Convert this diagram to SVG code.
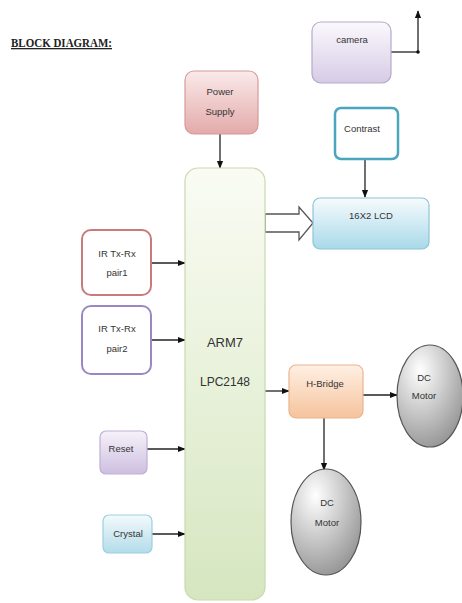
<svg xmlns="http://www.w3.org/2000/svg" width="462" height="603" viewBox="0 0 462 603">
<style>
text{font-family:"Liberation Sans",Arial,sans-serif;font-size:9.5px;fill:#333;text-anchor:middle}
.c{stroke:#222;stroke-width:1.3;fill:none}
.box{stroke-width:1.2}
</style>
<defs>
<marker id="ar" viewBox="0 0 10 10" refX="9" refY="5" markerWidth="6" markerHeight="6" orient="auto"><path d="M0,1 L10,5 L0,9 z" fill="#111"/></marker>
<linearGradient id="gCam" x1="0" y1="0" x2="0" y2="1"><stop offset="0" stop-color="#fbf9fd"/><stop offset="1" stop-color="#d6cbe6"/></linearGradient>
<linearGradient id="gPow" x1="0" y1="0" x2="0" y2="1"><stop offset="0" stop-color="#fbeaea"/><stop offset="1" stop-color="#e3aaaa"/></linearGradient>
<linearGradient id="gArm" x1="0" y1="0" x2="0" y2="1"><stop offset="0" stop-color="#fafcf4"/><stop offset="1" stop-color="#d6e6c0"/></linearGradient>
<linearGradient id="gLcd" x1="0" y1="0" x2="0" y2="1"><stop offset="0" stop-color="#f6fbfd"/><stop offset="1" stop-color="#a9d9e9"/></linearGradient>
<linearGradient id="gRes" x1="0" y1="0" x2="0" y2="1"><stop offset="0" stop-color="#f6f2fa"/><stop offset="1" stop-color="#cdbfe0"/></linearGradient>
<linearGradient id="gCry" x1="0" y1="0" x2="0" y2="1"><stop offset="0" stop-color="#f3fafc"/><stop offset="1" stop-color="#b2dcea"/></linearGradient>
<linearGradient id="gHb" x1="0" y1="0" x2="0" y2="1"><stop offset="0" stop-color="#fff0e4"/><stop offset="1" stop-color="#f6c39c"/></linearGradient>
<radialGradient id="gMot" cx="0.35" cy="0.25" r="0.85"><stop offset="0" stop-color="#ffffff"/><stop offset="1" stop-color="#8e8e8e"/></radialGradient>
</defs>
<rect width="462" height="603" fill="#fff"/>
<g id="title"><text x="11" y="47" style="font-family:'Liberation Serif','Times New Roman',serif;font-weight:bold;font-size:13px;text-anchor:start;fill:#222;text-decoration:underline" textLength="101" lengthAdjust="spacingAndGlyphs">BLOCK DIAGRAM:</text></g>
<g id="connectors">
<polyline class="c" points="391,52 418,52"/>
<line class="c" x1="418" y1="52" x2="418" y2="11" marker-end="url(#ar)"/>
<circle cx="418" cy="52" r="1.8" fill="#111"/>
<line class="c" x1="220" y1="134" x2="220" y2="168" marker-end="url(#ar)"/>
<line class="c" x1="365" y1="159" x2="365" y2="197" marker-end="url(#ar)"/>
<polygon points="265,214 299,214 299,207 313,223 299,240 299,232 265,232" fill="#fff" stroke="#555" stroke-width="1.3"/>
<line class="c" x1="151" y1="263" x2="185" y2="263" marker-end="url(#ar)"/>
<line class="c" x1="151" y1="340" x2="185" y2="340" marker-end="url(#ar)"/>
<line class="c" x1="147" y1="449" x2="185" y2="449" marker-end="url(#ar)"/>
<line class="c" x1="152" y1="534" x2="185" y2="534" marker-end="url(#ar)"/>
<line class="c" x1="265" y1="391" x2="289" y2="391" marker-end="url(#ar)"/>
<line class="c" x1="363" y1="395" x2="397" y2="395" marker-end="url(#ar)"/>
<line class="c" x1="324" y1="418" x2="324" y2="470" marker-end="url(#ar)"/>
</g>
<g id="camera"><rect class="box" x="312" y="22" width="79" height="61" rx="9" fill="url(#gCam)" stroke="#b7a9cc"/><text x="352" y="43">camera</text></g>
<g id="power"><rect class="box" x="185" y="71" width="73" height="63" rx="9" fill="url(#gPow)" stroke="#d69a9a"/><text x="220" y="95">Power</text><text x="220" y="115">Supply</text></g>
<g id="arm"><rect class="box" x="185" y="168" width="80" height="432" rx="13" fill="url(#gArm)" stroke="#c9d9ad"/><text x="225" y="347" style="font-size:13px">ARM7</text><text x="225" y="386" style="font-size:12px">LPC2148</text></g>
<g id="contrast"><rect x="335" y="108" width="63" height="51" rx="6" fill="#fff" stroke="#4aa5bd" stroke-width="2.5"/><text x="362" y="132">Contrast</text></g>
<g id="lcd"><rect class="box" x="313" y="198" width="116" height="51" rx="7" fill="url(#gLcd)" stroke="#8fc4d6"/><text x="371" y="219">16X2 LCD</text></g>
<g id="ir1"><rect x="82" y="230" width="69" height="65" rx="9" fill="#fff" stroke="#c97a7a" stroke-width="2"/><text x="117" y="257">IR Tx-Rx</text><text x="117" y="276">pair1</text></g>
<g id="ir2"><rect x="82" y="306" width="69" height="68" rx="9" fill="#fff" stroke="#9a88c4" stroke-width="2"/><text x="117" y="332">IR Tx-Rx</text><text x="117" y="352">pair2</text></g>
<g id="reset"><rect class="box" x="100" y="431" width="47" height="43" rx="6" fill="url(#gRes)" stroke="#bfb0d6"/><text x="121" y="452">Reset</text></g>
<g id="crystal"><rect class="box" x="103" y="515" width="49" height="38" rx="6" fill="url(#gCry)" stroke="#9ccfe0"/><text x="128" y="537">Crystal</text></g>
<g id="hbridge"><rect class="box" x="289" y="365" width="74" height="53" rx="7" fill="url(#gHb)" stroke="#eab48e"/><text x="325" y="387">H-Bridge</text></g>
<g id="motor1"><ellipse cx="430" cy="396" rx="33" ry="51" fill="url(#gMot)" stroke="#555" stroke-width="1.2"/><text x="424" y="381">DC</text><text x="424" y="399">Motor</text></g>
<g id="motor2"><ellipse cx="326" cy="522" rx="35" ry="53" fill="url(#gMot)" stroke="#555" stroke-width="1.2"/><text x="327" y="506">DC</text><text x="327" y="526">Motor</text></g>
</svg>
